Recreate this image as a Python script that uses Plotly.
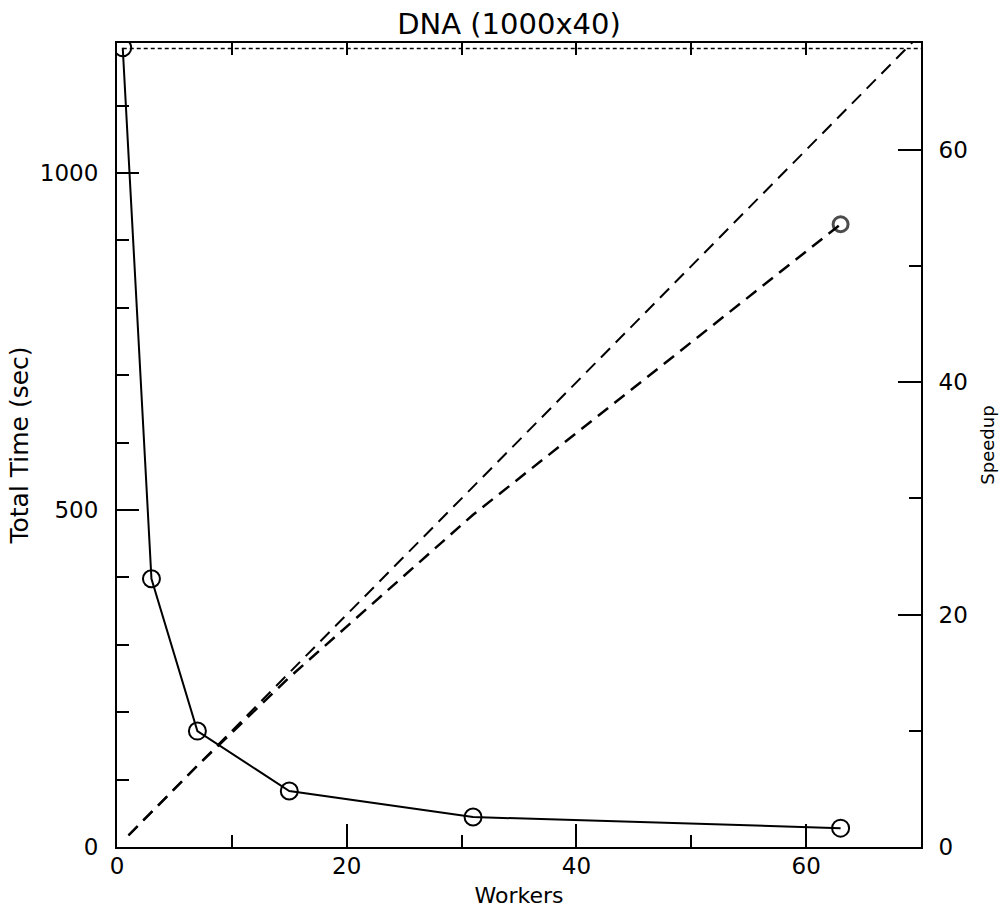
import plotly.graph_objects as go

# ---- data ----
workers_time = [0.5, 3, 7, 15, 31, 63]
total_time = [1186, 398, 172, 83, 44.5, 28]

workers_speedup = [1, 3, 7, 15, 31, 63]
speedup = [1, 3, 7, 14.6, 28.6, 53.6]

ideal_workers = [1, 70]
ideal_speedup = [1, 70]

seq_workers = [0.5, 70]
seq_time = [1185, 1185]

x_range = [0, 70]
time_range = [0, 1193]
speedup_range = [0, 69.2]

x_ticks = [0, 20, 40, 60]
time_ticks = [0, 500, 1000]
speedup_ticks = [0, 20, 40, 60]

FONT = "DejaVu Sans"
BLACK = "black"

fig = go.Figure()

fig.add_trace(go.Scatter(
    x=workers_time, y=total_time, mode="lines+markers",
    line=dict(color=BLACK, width=2),
    marker=dict(symbol="circle-open", size=17, color=BLACK, line=dict(width=2)),
    xaxis="x", yaxis="y", showlegend=False, name="Total Time"))

fig.add_trace(go.Scatter(
    x=seq_workers, y=seq_time, mode="lines",
    line=dict(color=BLACK, width=1.5, dash="4px,3px"),
    xaxis="x2", yaxis="y", showlegend=False, name="Sequential"))

fig.add_trace(go.Scatter(
    x=ideal_workers, y=ideal_speedup, mode="lines",
    line=dict(color=BLACK, width=2, dash="13px,8px"),
    xaxis="x", yaxis="y2", showlegend=False, name="Ideal"))

fig.add_trace(go.Scatter(
    x=workers_speedup, y=speedup, mode="lines+markers",
    line=dict(color=BLACK, width=2.5, dash="13px,8px"),
    marker=dict(symbol="circle-open", size=[0, 0, 0, 0, 0, 15], color=BLACK,
                line=dict(width=3, color=BLACK)),
    xaxis="x", yaxis="y2", showlegend=False, name="Speedup"))

axis_common = dict(showgrid=False, zeroline=False, showline=True,
                   linecolor=BLACK, linewidth=2, ticks="inside",
                   tickcolor=BLACK, tickwidth=2, automargin=False,
                   tickfont=dict(family=FONT, size=23, color=BLACK))

fig.update_layout(
    width=1000, height=908,
    margin=dict(l=117, r=79, t=43, b=61),
    paper_bgcolor="white", plot_bgcolor="white",
    title=dict(text="DNA (1000x40)", x=0.509, xanchor="center", xref="container",
               y=1 - 24 / 908, yanchor="middle", yref="container",
               font=dict(family=FONT, size=29, color=BLACK)),
    xaxis=dict(range=x_range, tickvals=x_ticks, ticklen=23,
               minor=dict(dtick=10, tick0=0, ticklen=12, ticks="inside",
                          tickcolor=BLACK, tickwidth=2),
               title=dict(text="Workers", standoff=11,
                          font=dict(family=FONT, size=22, color=BLACK)),
               ticklabelstandoff=-3,
               **axis_common),
    xaxis2=dict(range=x_range, overlaying="x", side="top", anchor="y",
                dtick=10, tick0=0, ticklen=12, showticklabels=False,
                **axis_common),
    yaxis=dict(range=time_range, tickvals=time_ticks, ticklen=22,
               minor=dict(dtick=100, tick0=0, ticklen=12, ticks="inside",
                          tickcolor=BLACK, tickwidth=2),
               title=dict(text="Total Time (sec)", standoff=4,
                          font=dict(family=FONT, size=25, color=BLACK)),
               ticklabelstandoff=12,
               **axis_common),
    yaxis2=dict(range=speedup_range, overlaying="y", side="right", anchor="x",
                tickvals=speedup_ticks, ticklen=23,
                minor=dict(dtick=10, tick0=0, ticklen=12, ticks="inside",
                           tickcolor=BLACK, tickwidth=2),
                title=dict(text="Speedup", standoff=15,
                           font=dict(family=FONT, size=18, color=BLACK)),
                ticklabelstandoff=11,
                **axis_common),
)

fig.write_html("out.html")
